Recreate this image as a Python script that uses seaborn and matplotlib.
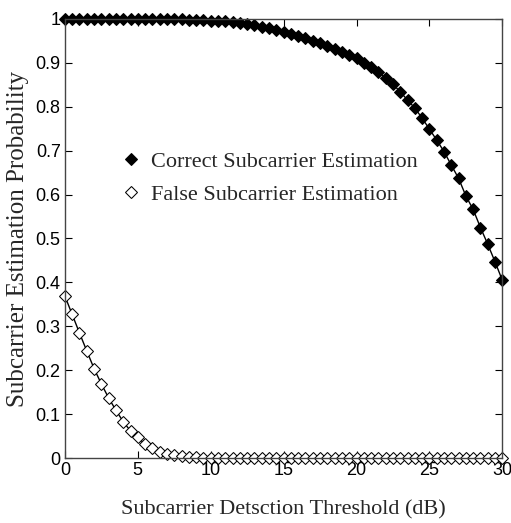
import matplotlib
matplotlib.use("Agg")
import matplotlib.pyplot as plt
import numpy as np
import pandas as pd
import seaborn as sns

threshold = np.arange(0, 30.5, 0.5)

correct = [1.0, 1.0, 1.0, 1.0, 1.0, 1.0, 1.0, 1.0, 1.0, 1.0,
           1.0, 1.0, 1.0, 1.0, 1.0, 0.999, 0.999, 0.998, 0.998, 0.997,
           0.996, 0.995, 0.994, 0.992, 0.990, 0.988, 0.985, 0.982, 0.979, 0.975,
           0.971, 0.966, 0.961, 0.956, 0.950, 0.944, 0.938, 0.932, 0.925, 0.918,
           0.910, 0.900, 0.890, 0.878, 0.866, 0.851, 0.834, 0.815, 0.797, 0.774,
           0.749, 0.724, 0.698, 0.667, 0.637, 0.597, 0.566, 0.525, 0.487, 0.447,
           0.405]

false = [0.369, 0.327, 0.285, 0.244, 0.204, 0.169, 0.137, 0.109, 0.083, 0.062,
         0.047, 0.032, 0.022, 0.014, 0.010, 0.007, 0.004, 0.003, 0.002, 0.001,
         0.001] + [0.0] * 40

df = pd.DataFrame({"x": threshold, "correct": correct, "false": false})

sns.set_style("ticks")
fig = plt.figure(figsize=(5.11, 5.23), dpi=100)
ax = fig.add_axes([0.127, 0.124, 0.856, 0.840])

sns.lineplot(data=df, x="x", y="correct", ax=ax, color="black", lw=1,
             marker="D", markersize=6, markerfacecolor="black",
             markeredgecolor="black", label="Correct Subcarrier Estimation",
             clip_on=False)
sns.lineplot(data=df, x="x", y="false", ax=ax, color="black", lw=1,
             marker="D", markersize=6, markerfacecolor="white",
             markeredgecolor="black", label="False Subcarrier Estimation",
             clip_on=False)

ax.set_xlim(0, 30)
ax.set_ylim(0, 1)
ax.set_xticks(range(0, 31, 5))
ax.set_yticks(np.arange(0, 1.01, 0.1))
ax.set_yticklabels(["0", "0.1", "0.2", "0.3", "0.4", "0.5", "0.6", "0.7", "0.8", "0.9", "1"])
ax.tick_params(direction="in", top=True, right=True, length=5,
               labelsize=13, colors="black", pad=3)
for lab in ax.get_xticklabels() + ax.get_yticklabels():
    lab.set_family("Liberation Sans")
for s in ax.spines.values():
    s.set_color("#444444")
    s.set_linewidth(1)

ax.set_xlabel("Subcarrier Detsction Threshold (dB)", family="Liberation Serif",
              fontsize=16, labelpad=15)
ax.set_ylabel("Subcarrier Estimation Probability", family="Liberation Serif",
              fontsize=18, labelpad=5)

ax.legend(loc="upper left", bbox_to_anchor=(0.126, 0.698), frameon=False,
          prop={"family": "Liberation Serif", "size": 16}, borderpad=0,
          borderaxespad=0, handlelength=1.0, handletextpad=0.4,
          labelspacing=0.55)
for h in ax.get_legend().get_lines():
    h.set_linestyle("none")

fig.savefig("out.png", dpi=100)
